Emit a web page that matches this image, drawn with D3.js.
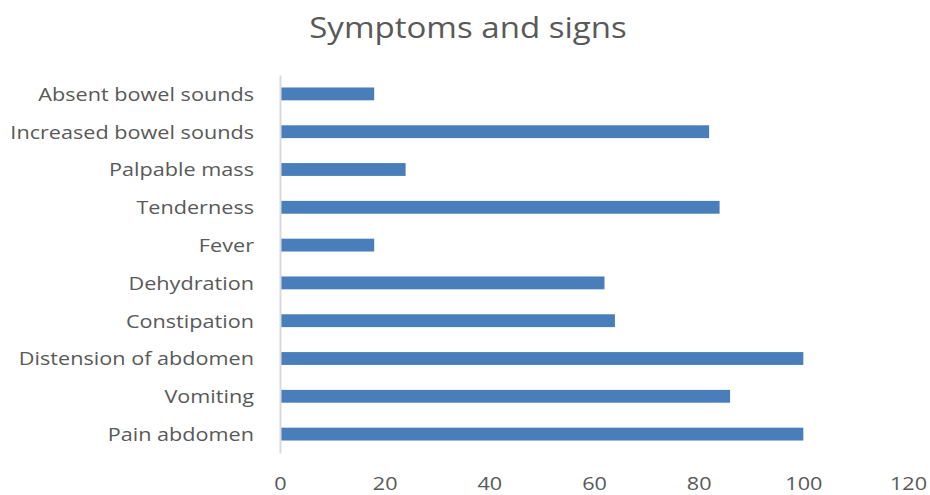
<!DOCTYPE html>
<html>
<head>
<meta charset="utf-8">
<script src="https://cdn.jsdelivr.net/npm/d3@7"></script>
<style>
  html, body { margin: 0; padding: 0; background: #fff; }
  svg { display: block; }
  text { font-family: "Open Sans", sans-serif; fill: #595959; font-weight: 500; }
</style>
</head>
<body>
<div id="chart"></div>
<script>
// Symptom categories, listed from top to bottom
const categories = [
  "Absent bowel sounds",
  "Increased bowel sounds",
  "Palpable mass",
  "Tenderness",
  "Fever",
  "Dehydration",
  "Constipation",
  "Distension of abdomen",
  "Vomiting",
  "Pain abdomen"
];
const values = [18, 82, 24, 84, 18, 62, 64, 100, 86, 100];
const xTicks = [0, 20, 40, 60, 80, 100, 120];
const title = "Symptoms and signs";

const width = 930, height = 495;
const margin = { top: 75, right: 22, bottom: 42, left: 280 };
const stretch = 1.17; // wide lettering

const svg = d3.select("#chart").append("svg")
  .attr("width", width).attr("height", height);

const x = d3.scaleLinear().domain([0, 120])
  .range([margin.left, width - margin.right]);
const y = d3.scaleBand().domain(categories)
  .range([margin.top, height - margin.bottom])
  .paddingInner(0.66).paddingOuter(0.33);

svg.append("text")
  .attr("transform", `translate(468,38) scale(${1.14},1)`)
  .attr("text-anchor", "middle")
  .style("font-size", "29px")
  .text(title);

// Bars
svg.append("g").selectAll("rect")
  .data(values)
  .join("rect")
  .attr("x", x(0) + 1)
  .attr("y", (d, i) => y(categories[i]))
  .attr("width", d => x(d) - x(0) - 1)
  .attr("height", y.bandwidth())
  .attr("fill", "#4a7ebb");

// Category axis
const yAxis = svg.append("g")
  .attr("transform", `translate(${x(0)},0)`)
  .call(d3.axisLeft(y).tickSize(0).tickPadding(26));
yAxis.select(".domain").attr("stroke", "#d9d9d9").attr("stroke-width", 2);
yAxis.selectAll("text")
  .attr("x", 0)
  .attr("transform", `translate(-26,1) scale(${stretch},1)`)
  .style("font-size", "18.5px")
  .attr("fill", "#595959");

// Value axis (labels only)
const xAxis = svg.append("g")
  .attr("transform", `translate(0,${height - margin.bottom})`)
  .call(d3.axisBottom(x).tickValues(xTicks).tickSize(0).tickPadding(24));
xAxis.select(".domain").remove();
xAxis.selectAll("text")
  .attr("transform", `scale(${stretch},1)`)
  .style("font-size", "18.5px")
  .attr("fill", "#595959");
</script>
</body>
</html>
